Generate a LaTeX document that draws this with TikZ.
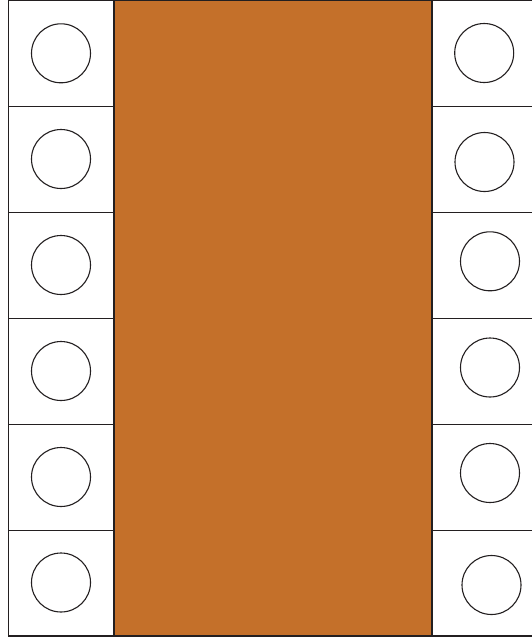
\documentclass[tikz,border=0pt]{standalone}
\usepackage{xcolor}
\definecolor{copper}{HTML}{C4702A}
\definecolor{ink}{HTML}{231F20}
\begin{document}
\begin{tikzpicture}[x=1pt,y=-1pt,
  edge/.style={draw=ink,line width=1.1pt},
  hole/.style={circle,draw=ink,line width=1.1pt,fill=white,minimum size=59pt,inner sep=0pt}]
\useasboundingbox (0,0) rectangle (531,638);
\fill[white] (0,0) rectangle (531,638);
% central strip
\filldraw[fill=copper,edge] (114,0.6) rectangle (432,636);
% left column cells
\foreach \i in {0,...,5}{
  \draw[edge,fill=white] (8.5,{0.6+\i*105.9}) rectangle (114,{0.6+(\i+1)*105.9});
}
% right column cells
\foreach \i in {0,...,5}{
  \draw[edge,fill=white] (532,{0.6+\i*105.9}) -- (432,{0.6+\i*105.9}) -- (432,{0.6+(\i+1)*105.9}) -- (532,{0.6+(\i+1)*105.9});
}
% left holes
\node[hole] (l1) at (61,53.3) {};
\node[hole] (l2) at (61,159) {};
\node[hole] (l3) at (61,265) {};
\node[hole] (l4) at (61,371) {};
\node[hole] (l5) at (61,477) {};
\node[hole] (l6) at (61,582.5) {};
% right holes
\node[hole] (r1) at (484.2,53) {};
\node[hole] (r2) at (484.5,162) {};
\node[hole] (r3) at (490,261.3) {};
\node[hole] (r4) at (490,367.5) {};
\node[hole] (r5) at (490,473) {};
\node[hole] (r6) at (491.5,585) {};
\end{tikzpicture}
\end{document}
